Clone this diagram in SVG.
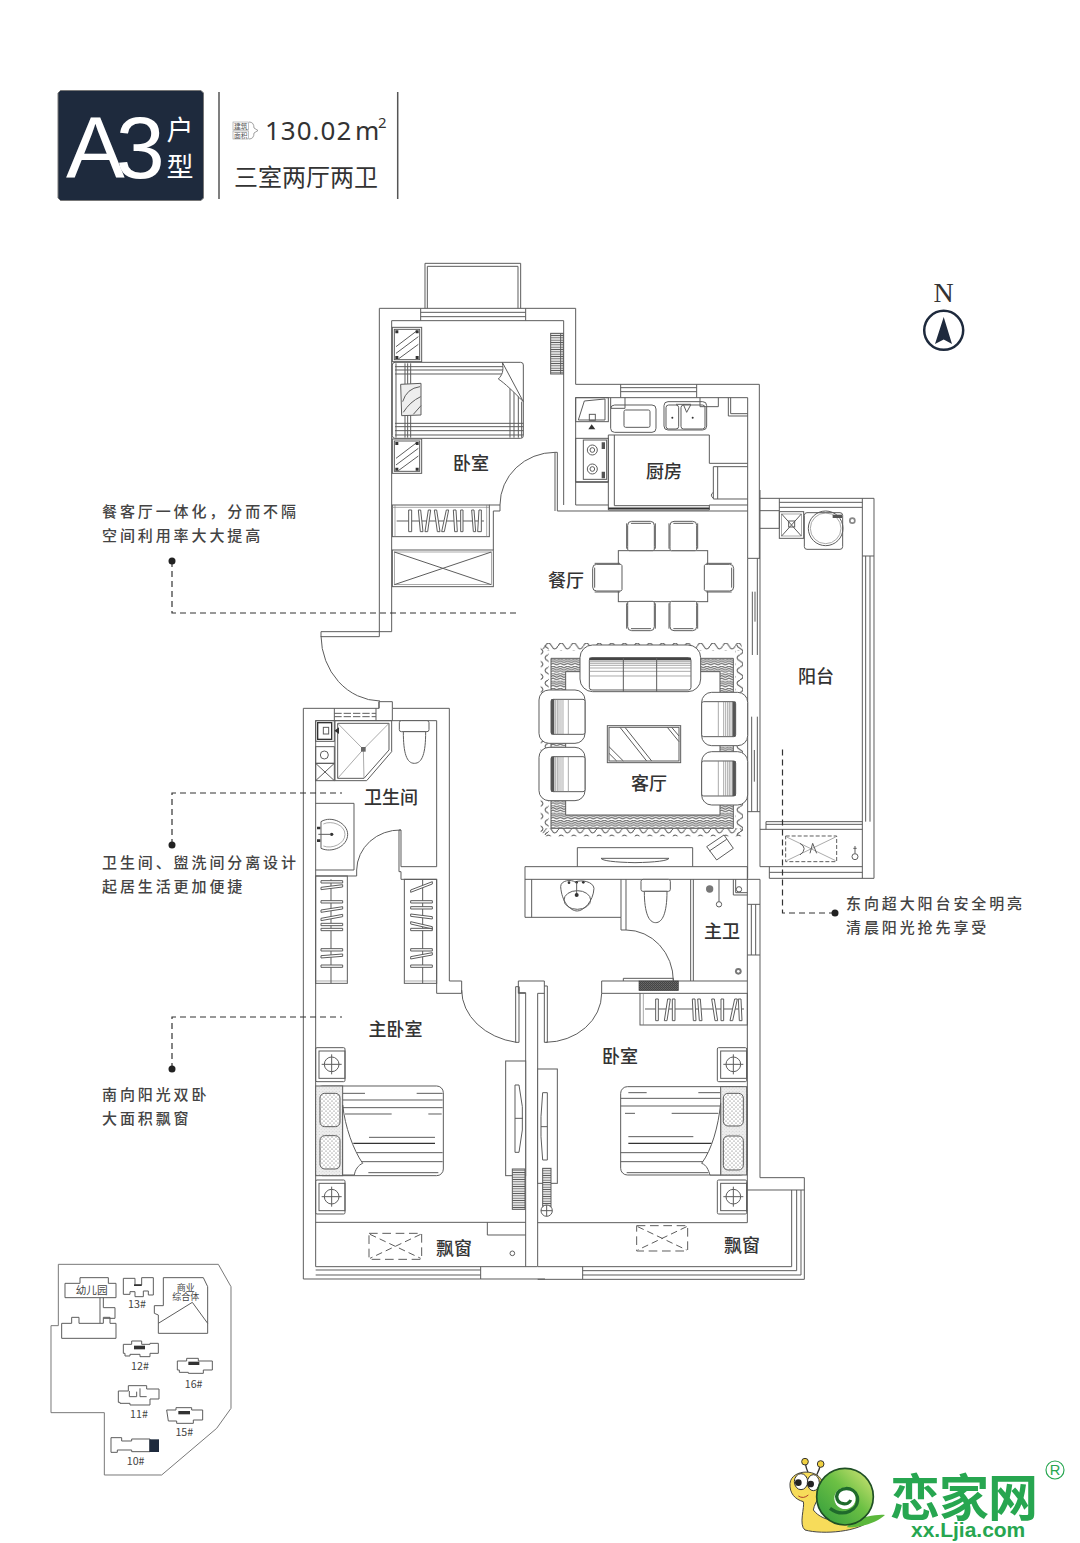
<svg xmlns="http://www.w3.org/2000/svg" width="1080" height="1543" viewBox="0 0 1080 1543">
<style>
.l{fill:none;stroke:#5c5c5c;stroke-width:3}
.w{fill:#fff;stroke:#5c5c5c;stroke-width:3}
.t{fill:none;stroke:#808080;stroke-width:2}
.k{fill:#333;stroke:none}
.d{fill:none;stroke:#5c5c5c;stroke-width:3;stroke-dasharray:26 14}
.lead{fill:none;stroke:#333;stroke-width:1.2;stroke-dasharray:6 4}
.room{font-family:"Noto Sans CJK SC","Liberation Sans",sans-serif;font-size:18px;font-weight:500;fill:#333;text-anchor:middle;dominant-baseline:central}
.note{font-family:"Noto Sans CJK SC","Liberation Sans",sans-serif;font-size:15px;font-weight:500;fill:#444;letter-spacing:2.9px}
.site{font-family:"Noto Sans CJK SC","Liberation Sans",sans-serif;font-size:32px;fill:#444;text-anchor:middle}
</style>
<defs>
<linearGradient id="shell" x1="1" y1="0" x2="0" y2="1"><stop offset="0" stop-color="#dbe87a"/><stop offset=".45" stop-color="#6cc044"/><stop offset="1" stop-color="#2f9a3c"/></linearGradient>
<pattern id="ph" width="7" height="7" patternUnits="userSpaceOnUse"><rect width="7" height="7" fill="#fff"/><path d="M0 3.500H7" stroke="#5c5c5c" stroke-width="3"/></pattern>
<pattern id="herr" width="22" height="22" patternUnits="userSpaceOnUse"><rect width="22" height="22" fill="#fff"/><path d="M0 5L11 0L22 5M0 12L11 7L22 12M0 19L11 14L22 19" fill="none" stroke="#666" stroke-width="3.400"/></pattern>
<pattern id="waveh" width="38" height="24" patternUnits="userSpaceOnUse"><path d="M0 12Q9.500 -6 19 12T38 12" fill="none" stroke="#5c5c5c" stroke-width="3"/></pattern>
<pattern id="wavev" width="24" height="38" patternUnits="userSpaceOnUse"><path d="M12 0Q-6 9.500 12 19T12 38" fill="none" stroke="#5c5c5c" stroke-width="3"/></pattern>
<pattern id="dots" width="12" height="12" patternUnits="userSpaceOnUse"><rect width="12" height="12" fill="#fff"/><circle cx="3" cy="3" r="1.700" fill="#555"/><circle cx="9" cy="9" r="1.700" fill="#555"/></pattern>
<pattern id="speck" width="10" height="10" patternUnits="userSpaceOnUse"><rect width="10" height="10" fill="#eee"/><circle cx="3" cy="4" r="1.200" fill="#999"/><circle cx="8" cy="8" r="1" fill="#aaa"/></pattern>
<pattern id="dark" width="6" height="6" patternUnits="userSpaceOnUse"><rect width="6" height="6" fill="#444"/><circle cx="2" cy="2" r="1.200" fill="#aaa"/><circle cx="5" cy="5" r="1" fill="#999"/></pattern>
<g id="chair"><path class="w" d="M-36 44Q-42 44 -40 32V-32Q-40 -44 -28 -44H28Q40 -44 40 -32V32Q42 44 36 44Z"/><path class="l" d="M-43 -38V38M43 -38V38M-30 -38H30"/></g>
<g id="arm"><rect class="w" x="0" y="0" width="138" height="160" rx="30"/><rect class="w" x="36" y="28" width="102" height="105" rx="6"/><rect x="36" y="28" width="10" height="105" fill="#555"/><path class="t" d="M50 28V133M55 28V133M60 28V133M66 28V133M72 28V133M88 28V133"/></g>
<g id="night"><rect class="l" x="0" y="0" width="88" height="102" rx="4"/><rect class="l" x="10" y="10" width="78" height="82"/><circle class="l" cx="48" cy="50" r="22"/><path class="l" d="M18 50H78M48 20V80"/></g>
<g id="nt"><rect class="l" x="0" y="0" width="88" height="103"/><rect class="l" x="6" y="6" width="76" height="91"/><path class="l" d="M11 58L73 11M11 78L78 28M18 95L78 51"/><path class="k" d="M9 9h9v9h-9zM70 9h9v9h-9zM9 86h9v9h-9zM70 86h9v9h-9z"/></g>
</defs>
<rect width="1080" height="1543" fill="#fff"/>

<g id="title">
<path d="M60.500 90.500H201L203.500 93V198L201 200.500H60.500L58 198V93Z" fill="#1e2a3d" stroke="#777" stroke-width="1"/>
<text x="66" y="178" font-family="Liberation Sans,Arial,sans-serif" font-size="88" fill="#fff" letter-spacing="-9">A3</text>
<text x="180" y="140" font-family="'Noto Sans CJK SC',sans-serif" font-size="27" fill="#fff" text-anchor="middle">户</text>
<text x="180" y="177" font-family="'Noto Sans CJK SC',sans-serif" font-size="27" fill="#fff" text-anchor="middle">型</text>
<path d="M219 92V199M397.700 92V199" stroke="#555" stroke-width="1.500" fill="none"/>
<rect x="233" y="122" width="15.500" height="8" fill="none" stroke="#999" stroke-width=".6"/>
<rect x="233" y="131" width="15.500" height="8" fill="none" stroke="#999" stroke-width=".6"/>
<text x="234" y="129" font-family="'Noto Sans CJK SC',sans-serif" font-size="6.800" fill="#555">建筑</text>
<text x="234" y="138" font-family="'Noto Sans CJK SC',sans-serif" font-size="6.800" fill="#555">面积</text>
<path d="M249 122Q254 122 254 128L258 130.500L254 133Q254 139 249 139" fill="none" stroke="#777" stroke-width=".7"/>
<text x="265" y="140" font-family="'Noto Sans','Liberation Sans',sans-serif" font-size="26" fill="#333" letter-spacing="1">130.02</text>
<text x="355" y="140" font-family="'Noto Sans','Liberation Sans',sans-serif" font-size="26" fill="#333">m</text>
<text x="378" y="128" font-family="'Noto Sans','Liberation Sans',sans-serif" font-size="15" fill="#333">2</text>
<text x="234" y="186" font-family="'Noto Sans CJK SC',sans-serif" font-size="24" fill="#333">三室两厅两卫</text>
</g>

<g id="north">
<text x="943.500" y="302" font-family="Liberation Serif,serif" font-size="28" fill="#333" text-anchor="middle">N</text>
<circle cx="943.700" cy="330.300" r="19.500" fill="none" stroke="#1e2a3d" stroke-width="2.500"/>
<path d="M943.700 317L935 344L943.700 339.500L952 344Z" fill="#1e2a3d"/>
</g>

<g id="north-bedroom-kitchen" transform="translate(370 255) scale(.33333)">
<path class="l" d="M28 1145V160H617V388H1168V910M65 1130V197H581V750M617 428H1133V910M617 428V750H715M1018 750H1133M555 592H562V768H1133M555 592V768"/>
<path class="l" d="M-147 1145H28M-147 1130H65M-147 1130V1145"/>
<path class="l" d="M152 160V197M467 160V197M152 172H467M152 185H467M752 388V428M980 388V428M752 398H980M752 410H980"/>
<path class="l" d="M165 160V25H452V160M172 160V34H444V160"/>
<rect class="l" x="67" y="750" width="291" height="95"/>
<path class="t" d="M75 750V845M350 750V845M67 757H358"/>
<path class="l" d="M80 798H342"/>
<path class="w" d="M116 765h9v65h-9zM145 765h7l7 65h-8zM165 830l10 -65h7l-9 65zM193 765h7l10 65h-8zM215 830l14 -65h7l-13 65zM250 765h8l4 65h-8zM272 765h7v65h-7zM305 765h7l5 65h-7zM323 830l4 -65h7v65z"/>
<path class="l" d="M358 750H390V768H370V885"/>
<path class="l" d="M390 750A165 158 0 0 1 555 592"/>
<rect class="l" x="67" y="885" width="303" height="110"/><rect class="t" x="73" y="891" width="291" height="98"/>
<path class="l" d="M73 891L364 989M364 891L73 989"/>
<use href="#nt" x="67" y="217"/><use href="#nt" x="67" y="552"/>
<rect class="w" x="67" y="322" width="393" height="228" rx="8"/>
<path class="l" d="M75 335H400M75 345H400M75 357H400M75 505H460M75 515H460M75 527H460M75 540H460M78 325V548M105 325V548M113 325V548M122 325V548M420 395V548M432 400V548M445 420V548M455 440V548"/>
<path class="w" d="M397 322C402 350 396 360 385 372C405 385 430 410 460 440Z"/>
<path d="M92 388L153 385V480L95 482Z" fill="#eee" stroke="#5c5c5c" stroke-width="3"/>
<path class="l" d="M98 440Q110 400 150 395M100 472Q120 440 152 425M130 478L153 452"/>
<rect x="542" y="235" width="38" height="122" fill="url(#ph)" stroke="#5c5c5c" stroke-width="3"/>
<path class="l" d="M572 235V357"/>
<rect class="l" x="617" y="428" width="98" height="72"/>
<path class="l" d="M625 495L643 438L705 432V495Z"/>
<rect class="l" x="658" y="478" width="18" height="18"/>
<path class="k" d="M655 523H676L665 508Z"/>
<rect class="w" x="722" y="450" width="136" height="82" rx="12"/><rect class="l" x="762" y="465" width="78" height="52" rx="5"/>
<path class="l" d="M722 428V460H765V428"/>
<rect class="w" x="882" y="440" width="128" height="85" rx="12"/><rect class="l" x="888" y="450" width="38" height="72" rx="8"/><rect class="l" x="933" y="450" width="72" height="72" rx="8"/>
<circle class="k" cx="907" cy="488" r="3"/><circle class="k" cx="968" cy="488" r="3"/>
<path class="l" d="M918 448H963M940 448L950 472L962 450M990 428V455H1045V428M1075 428V483H1133M1082 428V476H1133"/>
<rect class="l" x="617" y="550" width="98" height="130"/><rect class="l" x="640" y="555" width="70" height="118"/>
<circle class="l" cx="667" cy="585" r="15"/><circle class="l" cx="667" cy="585" r="7"/><circle class="l" cx="667" cy="642" r="15"/><circle class="l" cx="667" cy="642" r="7"/>
<path d="M695 562h10v20h-10zM695 650h10v20h-10z" fill="#555"/>
<path class="l" d="M715 540H1018V625H1133M715 540V765H1018V750M733 540V752H1018M617 682H715"/>
<path d="M715 760H1018" stroke="#333" stroke-width="5" fill="none"/>
<path class="l" d="M1133 635H1030V732H1133M1043 635V732M1030 712Q1018 720 1030 730"/>
</g>

<g id="entrance-door"><path d="M321 636A60 66 0 0 0 380 701" fill="none" stroke="#5c5c5c" stroke-width="1"/></g>

<g id="living-balcony" transform="translate(520 490) scale(.33333)">
<path class="l" d="M720 0V1130M683 205V1165"/>
<path class="l" d="M683 205H720M683 965H720M712 205V495M697 305V495M705 305V395M695 680V965M712 680V965M703 780V875"/>
<path class="l" d="M720 25H1062V1165H748V1130M720 62H778M720 115H778V25M1027 25V198M1027 198H1062M1027 198V1165M1037 198V995M1050 198V995M778 37H1027M778 52H1027"/>
<path class="l" d="M720 1018H1027M738 995H1027M738 1003H1027M738 995V1018M720 1130H1027M748 1147H1027"/>
<rect class="l" x="778" y="65" width="73" height="80"/><rect class="t" x="785" y="72" width="59" height="66"/>
<path class="l" d="M785 72L844 138M844 72L785 138"/><rect class="l" x="806" y="93" width="18" height="18"/>
<rect class="w" x="853" y="68" width="115" height="110" rx="8"/><circle class="l" cx="917" cy="115" r="52"/><circle class="t" cx="917" cy="115" r="46"/><rect x="938" y="74" width="28" height="10" fill="#555"/>
<circle cx="997" cy="92" r="10" fill="#888"/><circle cx="997" cy="92" r="5" fill="#fff"/>
<rect class="d" x="797" y="1038" width="153" height="77" style="stroke-dasharray:12 6"/>
<path class="t" d="M800 1041L947 1112M947 1041L800 1112"/><path class="l" d="M840 1060Q865 1075 840 1095M870 1090L878 1060L890 1090"/>
<circle class="l" cx="1005" cy="1100" r="9"/><path class="l" d="M1005 1068V1090M1000 1075H1010"/>

<rect class="w" x="295" y="182" width="268" height="153"/>
<use href="#chair" transform="translate(363 138)"/><use href="#chair" transform="translate(490 138)"/>
<use href="#chair" transform="translate(363 378) rotate(180)"/><use href="#chair" transform="translate(490 378) rotate(180)"/>
<use href="#chair" transform="translate(262 263) rotate(-90)"/><use href="#chair" transform="translate(597 263) rotate(90)"/>

<rect x="68" y="459" width="597" height="24" fill="url(#waveh)"/><rect x="68" y="1015" width="597" height="24" fill="url(#waveh)"/>
<rect x="62" y="465" width="24" height="570" fill="url(#wavev)"/><rect x="645" y="465" width="24" height="570" fill="url(#wavev)"/>
<path d="M93 505H640V1015H93ZM137 545V975H600V545Z" fill="url(#herr)" fill-rule="evenodd" stroke="#5c5c5c" stroke-width="3"/>
<rect class="w" x="180" y="465" width="362" height="140" rx="38"/>
<rect class="w" x="208" y="503" width="305" height="97" rx="8"/>
<rect x="208" y="503" width="305" height="8" fill="#444"/>
<path class="t" d="M208 515H513M208 520H513M208 526H513M208 534H513M208 544H513M208 558H513"/><path class="l" d="M310 503V605M410 503V605"/>
<use href="#arm" transform="translate(57 600)"/><use href="#arm" transform="translate(57 772)"/>
<use href="#arm" transform="translate(683 607) scale(-1 1)"/><use href="#arm" transform="translate(683 785) scale(-1 1)"/>
<rect class="w" x="262" y="707" width="220" height="111"/><rect class="l" x="267" y="712" width="210" height="101"/>
<path class="l" d="M300 712L380 813M315 712L395 813M267 770L310 813M267 790L290 813M442 712L477 755M455 712L477 738"/>
<path class="w" d="M560 1070L612 1035L640 1075L590 1110Z"/><path class="l" d="M568 1083L620 1048"/>
<path class="l" d="M172 1130V1073H518V1130"/>
<path class="w" d="M243 1105H447Q440 1116 345 1118Q250 1116 243 1105Z"/>
</g>

<g id="west-bath" transform="translate(295 690) scale(.33333)">
<path class="l" d="M25 55V870M62 92V870M25 55H252V35H292V55H463V873H500V910H425V568H318V545H312V420H318V530H425V92H62M252 35V55M292 92V55"/>
<path class="l" d="M118 55V92M243 55V92"/><path class="d" d="M118 70H243M118 80H243" style="stroke-dasharray:22 6"/>
<rect class="l" x="62" y="92" width="56" height="62"/><rect x="68" y="98" width="42" height="50" fill="#fff" stroke="#333" stroke-width="4"/><rect class="l" x="85" y="112" width="16" height="20"/>
<rect class="l" x="62" y="170" width="56" height="50"/><circle class="l" cx="88" cy="195" r="12"/>
<rect class="l" x="62" y="220" width="56" height="52"/><path class="l" d="M62 220L118 272M118 220L62 272"/>
<path class="l" d="M120 92H290V185L215 272H120Z"/><path class="l" d="M128 100H282V180L207 265H128Z"/>
<path class="t" d="M128 100L205 178M282 100L205 178M207 265L205 178M128 265L205 178"/>
<rect x="198" y="171" width="14" height="14" fill="#666"/>
<path class="k" d="M118 122L132 112V132Z"/>
<rect class="w" x="313" y="92" width="89" height="33" rx="6"/>
<path class="w" d="M325 125C325 190 335 220 358 220C382 220 392 190 392 125Z"/>
<path class="l" d="M62 340H177V540H62M62 558H185V540"/>
<path class="l" d="M185 540A130 122 0 0 1 318 420"/>
<path class="w" d="M78 395C110 375 158 400 158 433C158 470 110 490 78 475Z"/>
<path class="t" d="M85 402C110 390 150 405 150 433C150 462 110 478 85 468"/>
<circle class="k" cx="110" cy="433" r="5"/><path class="l" d="M70 433H108"/><path class="k" d="M66 410h10v8h-10zM66 448h10v8h-10z"/>
<rect class="l" x="62" y="558" width="95" height="322"/><path class="t" d="M62 873H157"/>
<path class="l" d="M108 568V880"/>
<path class="w" d="M78 572h65v7h-65zM78 592l65 -8v7l-65 8zM78 632h65v7h-65zM78 660l65 -10v7l-65 10zM78 685l65 -12v7l-65 12zM78 700h65v7h-65zM78 715h65v7h-65zM78 776h65v7h-65zM78 797l65 -5v7l-65 5zM78 825h65v7h-65z"/>
<rect class="l" x="328" y="568" width="97" height="312"/><path class="t" d="M328 873H425"/>
<path class="l" d="M383 568V880"/>
<path class="w" d="M347 600l65 -25v7l-65 25zM347 632h65v7h-65zM347 650h65l0 7h-65zM347 672l65 8v7l-65 -8zM347 695l65 15v7l-65 -15zM347 715h65v7h-65zM347 776h65v7h-65zM347 800l65 -12v7l-65 12zM347 825h65v7h-65z"/>
</g>

<g id="master-bedroom" transform="translate(295 980) scale(.33333)">
<path class="l" d="M25 0V897H750M62 0V860M62 727H692M577 727V765H692M62 860H727M62 870H557M62 885H557M557 860V897M692 38V860M672 38H692M662 20H672V187H662ZM672 20V38M500 30A200 160 0 0 0 664 187"/>
<use href="#night" x="62" y="203"/><use href="#night" x="62" y="600"/>
<rect class="w" x="62" y="318" width="383" height="269" rx="20"/>
<path class="l" d="M143 340H210M365 340H443M143 360H443M143 383H443M150 402H290M400 402H440M222 472H420"/>
<path d="M175 490H420" stroke="#333" stroke-width="4" fill="none"/>
<path class="l" d="M185 518H443M195 545H443M220 578H430"/>
<rect x="62" y="318" width="81" height="269" fill="url(#speck)" stroke="#5c5c5c" stroke-width="3"/>
<rect x="75" y="340" width="60" height="100" rx="14" fill="url(#dots)" stroke="#5c5c5c" stroke-width="3"/>
<rect x="75" y="467" width="60" height="100" rx="14" fill="url(#dots)" stroke="#5c5c5c" stroke-width="3"/>
<path class="w" d="M143 375C150 440 175 510 203 550C190 555 180 570 178 585H143Z"/>
<rect class="w" x="632" y="243" width="60" height="344"/>
<path class="l" d="M660 315H672L682 380V450L672 517H660ZM660 415H684"/>
<rect x="652" y="567" width="38" height="121" fill="url(#ph)" stroke="#5c5c5c" stroke-width="3"/>
<rect class="d" x="222" y="760" width="158" height="78"/>
<path class="d" d="M225 763L377 835M377 763L225 835" style="stroke-dasharray:20 12"/>
<circle class="l" cx="652" cy="820" r="7"/>
</g>

<g id="south-bedroom" transform="translate(515 850) scale(.33333)">
<path class="l" d="M30 50H697M30 50V202H318V88M30 88H735M50 88V202M333 88V240H318V202M333 240A142 153 0 0 1 475 393"/>
<path class="l" d="M697 50V1118M735 88V983H868V1288H68M697 163H735M697 315H735M709 163V315M722 163V315"/>
<path class="l" d="M527 88V393M535 88V393M260 393H697M260 393V430H375M325 393V385H475V393"/>
<rect x="372" y="393" width="118" height="29" fill="url(#dark)" stroke="#444" stroke-width="2"/>
<rect class="l" x="375" y="430" width="322" height="95"/><path class="t" d="M385 430V525"/>
<path class="l" d="M390 477H687"/>
<path class="w" d="M422 447h8v65h-8zM448 512l10 -65h8l-10 65zM472 447h8v65h-8zM532 447h8l3 65h-8zM548 447h8l5 65h-8zM590 447h8l10 65h-8zM618 447h8v65h-8zM645 512l14 -65h8l-14 65zM670 447h8l3 65h-8z"/>
<path class="l" d="M260 430A170 147 0 0 1 92 577M88 393V577H97V408H88"/>
<path class="l" d="M10 430V393H88M10 430H32M68 430H88M68 430V1250"/>
<path class="l" d="M68 1250H830M203 1250V1288M203 1262H845M203 1275H858M830 1020V1250M845 1020V1262M858 1020V1275M697 1020H868M68 1118H697"/>
<rect class="d" x="365" y="1127" width="153" height="76"/>
<path class="d" d="M368 1130L515 1200M515 1130L368 1200" style="stroke-dasharray:20 12"/>
<use href="#night" x="607" y="593"/><use href="#night" x="607" y="990"/>
<rect class="w" x="317" y="710" width="380" height="265" rx="20"/>
<path class="l" d="M340 728H395M550 728H615M317 745H617M317 768H617M330 790H360M470 790H610M340 860H535M317 908H590M317 935H570M335 968H580"/>
<path d="M340 880H590" stroke="#333" stroke-width="4" fill="none"/>
<rect x="617" y="710" width="78" height="265" fill="url(#speck)" stroke="#5c5c5c" stroke-width="3"/>
<rect x="625" y="730" width="60" height="98" rx="14" fill="url(#dots)" stroke="#5c5c5c" stroke-width="3"/>
<rect x="625" y="858" width="60" height="102" rx="14" fill="url(#dots)" stroke="#5c5c5c" stroke-width="3"/>
<path class="w" d="M617 760C610 830 590 900 560 940C575 945 580 960 585 975H617Z"/>
<rect class="w" x="68" y="657" width="59" height="343"/>
<path class="l" d="M83 728H97V930H83L78 860V800ZM78 830H97"/>
<rect x="83" y="955" width="25" height="115" fill="url(#ph)" stroke="#5c5c5c" stroke-width="3"/>
<circle class="w" cx="95" cy="1082" r="17"/><path class="l" d="M78 1082H112M95 1065V1099"/>
<path class="w" d="M137 110C137 90 170 88 180 96C200 88 235 95 237 115C235 155 205 183 187 183C165 183 140 155 137 110Z"/>
<ellipse class="l" cx="187" cy="150" rx="40" ry="28"/>
<circle class="k" cx="162" cy="98" r="4"/><circle class="k" cx="185" cy="97" r="4"/><circle class="k" cx="205" cy="97" r="4"/><path class="l" d="M185 97V135"/><circle class="k" cx="185" cy="135" r="6"/>
<rect class="w" x="378" y="88" width="88" height="36" rx="6"/>
<path class="w" d="M388 124C388 190 402 218 422 218C442 218 456 190 456 124Z"/>
<circle cx="584" cy="117" r="11" fill="#777"/>
<path class="l" d="M612 88V155"/><circle class="l" cx="612" cy="163" r="8"/>
<path class="l" d="M655 88V135H697M662 88V128H697"/><circle class="l" cx="672" cy="118" r="8"/>
<circle cx="670" cy="364" r="10" fill="#777"/><circle cx="670" cy="364" r="4" fill="#fff"/>
</g>

<g id="leaders">
<path class="lead" d="M172 561V613H518M172 845V793H342M172 1069V1017H342M835 913H782.500V746"/>
<circle cx="172" cy="561" r="3.500" fill="#222"/><circle cx="172" cy="845" r="3.500" fill="#222"/><circle cx="172" cy="1069" r="3.500" fill="#222"/><circle cx="835" cy="913" r="3.500" fill="#222"/>
</g>

<g id="labels">
<text class="room" x="471" y="462">卧室</text>
<text class="room" x="664" y="470">厨房</text>
<text class="room" x="566" y="579">餐厅</text>
<text class="room" x="816" y="675">阳台</text>
<text class="room" x="649" y="782">客厅</text>
<text class="room" x="391" y="796">卫生间</text>
<text class="room" x="722" y="930">主卫</text>
<text class="room" x="620" y="1055">卧室</text>
<text class="room" x="395.500" y="1028">主卧室</text>
<text class="room" x="454" y="1247">飘窗</text>
<text class="room" x="742" y="1244">飘窗</text>
</g>
<g id="notes">
<text class="note" x="102" y="517">餐客厅一体化，分而不隔</text>
<text class="note" x="102" y="541">空间利用率大大提高</text>
<text class="note" x="102" y="868">卫生间、盥洗间分离设计</text>
<text class="note" x="102" y="892">起居生活更加便捷</text>
<text class="note" x="102" y="1100">南向阳光双卧</text>
<text class="note" x="102" y="1124">大面积飘窗</text>
<text class="note" x="846" y="909">东向超大阳台安全明亮</text>
<text class="note" x="846" y="933">清晨阳光抢先享受</text>
</g>

<g id="site-map" transform="translate(40 1255) scale(.33333)">
<path d="M55 28H535L573 95V460L530 520L365 660H193V473H33V212H55Z" fill="none" stroke="#777" stroke-width="3"/>
<path class="l" d="M75 85H120V68H205V85H228V128H75ZM180 128V205M190 128V158H225V190H190M65 205H95V187H117V205H180V205H190V187H210V205H228V250H65Z"/>
<text class="site" x="155" y="118">幼儿园</text>
<path class="l" d="M250 70H285V90H305V68H340V120H325V108H310V125H285V110H270V118H250Z"/><path class="k" d="M282 88H305V93H282Z"/>
<text class="site" x="291" y="160">13#</text>
<path class="l" d="M370 68H490L503 95V235H355V180L343 175V152H370ZM355 205L457 142L503 205"/>
<text class="site" x="437" y="107" style="font-size:27px">商业</text><text class="site" x="437" y="136" style="font-size:27px">综合体</text>
<path class="l" d="M250 268H275V258H305V268H330V265H355V295H330V305H300V298H270V303H255V295H250Z"/><path class="k" d="M282 272H315V283H282Z"/>
<text class="site" x="300" y="344">12#</text>
<path class="l" d="M412 318H440V310H475V318H517V345H490V355H445V352H418V345H412Z"/><path class="k" d="M445 320H478V330H445Z"/>
<text class="site" x="461" y="398">16#</text>
<path class="l" d="M235 408H265V392H320V402H357V432H330V450H270V445H240V442H235ZM268 408V425H290V410M300 400V425H320"/>
<text class="site" x="297" y="488">11#</text>
<path class="l" d="M380 465H408V458H455V465H488V495H460V505H410V498H385Z"/><path class="k" d="M415 468H450V478H415Z"/>
<text class="site" x="433" y="544">15#</text>
<path class="l" d="M213 548H245V558H275V552H330V590H275V585H232V592H213Z"/>
<rect x="328" y="553" width="29" height="38" fill="#1e2a3d"/>
<text class="site" x="287" y="629">10#</text>
</g>

<g id="logo" transform="translate(780 1440) scale(.33333)">
<path d="M75 65Q78 85 85 100M122 72Q118 90 110 105" fill="none" stroke="#333" stroke-width="4"/>
<circle cx="75" cy="65" r="10" fill="#f0d040" stroke="#333" stroke-width="3"/><circle cx="122" cy="72" r="10" fill="#f0d040" stroke="#333" stroke-width="3"/>
<path d="M30 130C35 85 120 85 128 130C132 160 105 180 100 210C130 250 200 250 270 240C240 275 130 285 75 270C55 255 75 200 70 185C45 178 28 160 30 130Z" fill="#f7dc5a" stroke="#444" stroke-width="3"/>
<ellipse cx="63" cy="125" rx="20" ry="24" fill="#fff" stroke="#333" stroke-width="3"/><ellipse cx="100" cy="128" rx="18" ry="24" fill="#fff" stroke="#333" stroke-width="3"/>
<circle cx="55" cy="128" r="10" fill="#222"/><circle cx="92" cy="132" r="10" fill="#222"/>
<path d="M55 168Q70 178 85 165" fill="none" stroke="#b0402a" stroke-width="3"/>
<path d="M200 262C230 265 290 250 315 225C290 222 250 232 220 240Z" fill="#5cb83c"/>
<circle cx="195" cy="170" r="85" fill="url(#shell)" stroke="#1f4f25" stroke-width="5"/>
<circle cx="195" cy="175" r="32" fill="#fff"/>
<path d="M212 180C205 198 172 195 170 170C172 140 222 135 232 170C240 210 190 235 150 205" fill="none" stroke="#1f6a2c" stroke-width="10"/>
<text x="330" y="228" font-family="'Noto Sans CJK SC',sans-serif" font-weight="700" font-size="150" fill="#27a650" letter-spacing="-3">恋家网</text>
<text x="393" y="292" font-family="Liberation Sans,Arial,sans-serif" font-weight="700" font-size="63" fill="#27a650">xx.Ljia.com</text>
<circle cx="825" cy="90" r="27" fill="none" stroke="#27a650" stroke-width="3.500"/>
<text x="825" y="106" font-family="Liberation Sans,Arial,sans-serif" font-size="44" fill="#27a650" text-anchor="middle">R</text>
</g>
</svg>
